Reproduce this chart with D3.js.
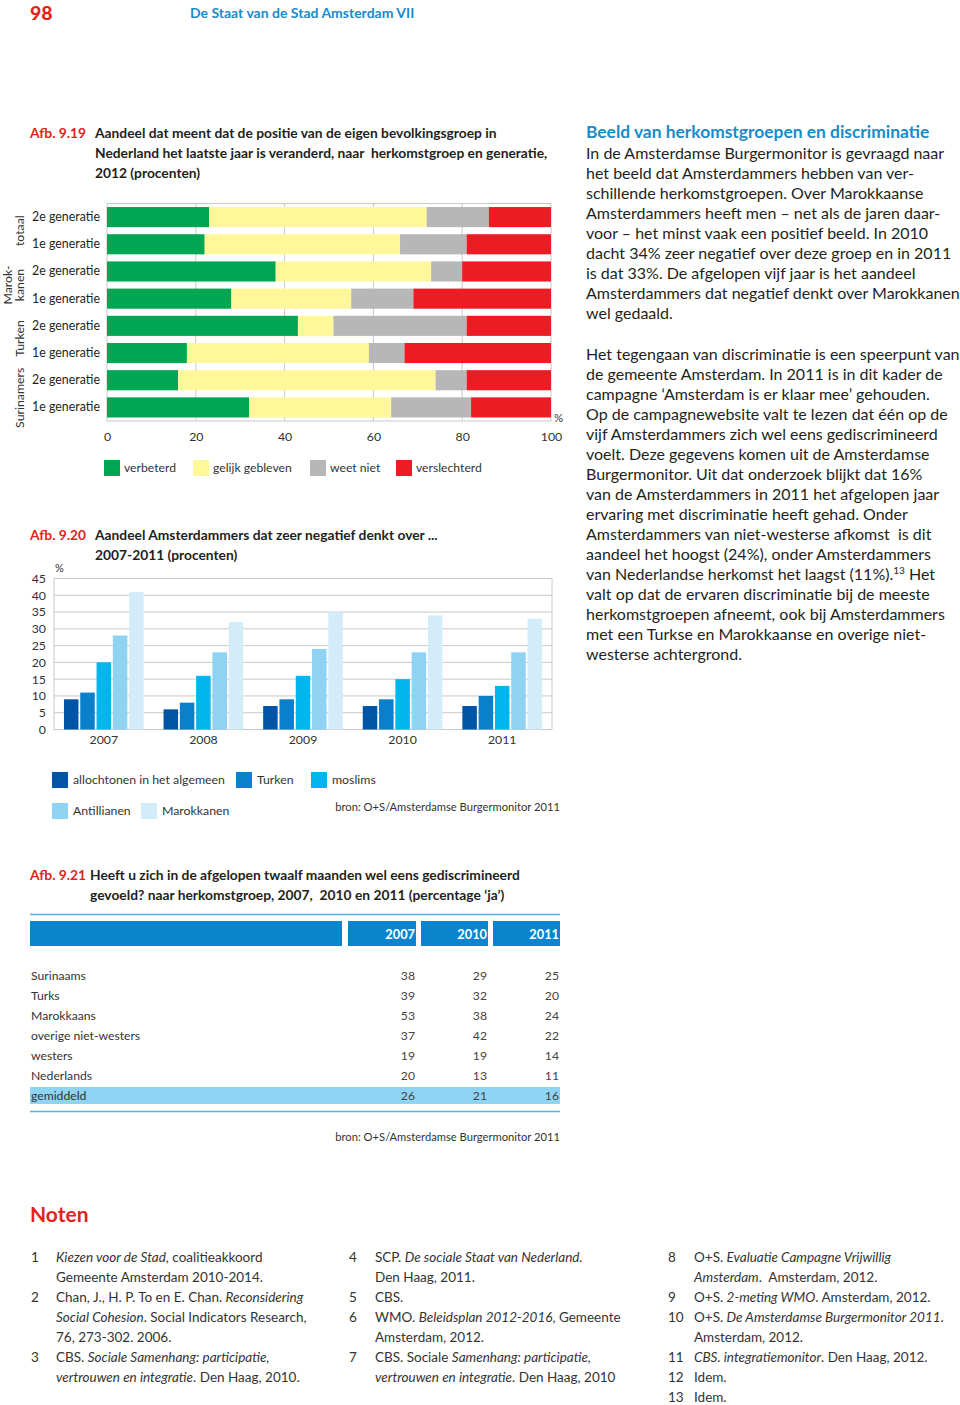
<!DOCTYPE html>
<html><head><meta charset="utf-8">
<script src="https://cdn.jsdelivr.net/npm/d3@7"></script>
<style>
body{margin:0;background:#fff;}
svg text{font-family:Lato,"Open Sans",sans-serif;fill:#231f20;white-space:pre;}
</style></head><body>
<svg id="c" width="960" height="1405"></svg>
<script>
// ---------- DATA ----------
// Afb. 9.19
const groups919 = [["totaal"], ["Marok-", "kanen"], ["Turken"], ["Surinamers"]];
const rowLabels919 = ["2e generatie","1e generatie","2e generatie","1e generatie","2e generatie","1e generatie","2e generatie","1e generatie"];
const rowGroup919 = [0,0,1,1,2,2,3,3];
const categories919 = ["verbeterd","gelijk gebleven","weet niet","verslechterd"];
const verbeterd = [23,22,38,28,43,18,16,32];
const gelijkGebleven = [49,44,35,27,8,41,58,32];
const weetNiet = [14,15,7,14,30,8,7,18];
const verslechterd = [14,19,20,31,19,33,19,18];
const ticks919 = [0,20,40,60,80,100];
const colors919 = ["#00a651","#fff799","#b7b7b7","#ed1c24"];

// Afb. 9.20
const years920 = ["2007","2008","2009","2010","2011"];
const series920 = ["allochtonen in het algemeen","Turken","moslims","Antillianen","Marokkanen"];
const allochtonen = [9,6,7,7,7];
const turken = [11,8,9,9,10];
const moslims = [20,16,16,15,13];
const antillianen = [28,23,24,23,23];
const marokkanen = [41,32,35,34,33];
const ticks920 = [0,5,10,15,20,25,30,35,40,45];
const colors920 = ["#0054a6","#0a7fcc","#00b6ef","#8fd2f2","#d2ecfa"];

// Afb. 9.21
const cols921 = ["2007","2010","2011"];
const rows921 = ["Surinaams","Turks","Marokkaans","overige niet-westers","westers","Nederlands","gemiddeld"];
const v2007 = [38,39,53,37,19,20,26];
const v2010 = [29,32,38,42,19,13,21];
const v2011 = [25,20,24,22,14,11,16];

// Text
const bodyPara1 = [
"In de Amsterdamse Burgermonitor is gevraagd naar",
"het beeld dat Amsterdammers hebben van ver-",
"schillende herkomstgroepen. Over Marokkaanse",
"Amsterdammers heeft men – net als de jaren daar-",
"voor – het minst vaak een positief beeld. In 2010",
"dacht 34% zeer negatief over deze groep en in 2011",
"is dat 33%. De afgelopen vijf jaar is het aandeel",
"Amsterdammers dat negatief denkt over Marokkanen",
"wel gedaald."];
const bodyPara2 = [
"Het tegengaan van discriminatie is een speerpunt van",
"de gemeente Amsterdam. In 2011 is in dit kader de",
"campagne ‘Amsterdam is er klaar mee’ gehouden.",
"Op de campagnewebsite valt te lezen dat één op de",
"vijf Amsterdammers zich wel eens gediscrimineerd",
"voelt. Deze gegevens komen uit de Amsterdamse",
"Burgermonitor. Uit dat onderzoek blijkt dat 16%",
"van de Amsterdammers in 2011 het afgelopen jaar",
"ervaring met discriminatie heeft gehad. Onder",
"Amsterdammers van niet-westerse afkomst  is dit",
"aandeel het hoogst (24%), onder Amsterdammers",
"van Nederlandse herkomst het laagst (11%).^13 Het",
"valt op dat de ervaren discriminatie bij de meeste",
"herkomstgroepen afneemt, ook bij Amsterdammers",
"met een Turkse en Marokkaanse en overige niet-",
"westerse achtergrond."];

// notes: [column, lineIndex, number, segments [text, italic]]
const notes = [
 [0,0,"1",[["Kiezen voor de Stad",1],[", coalitieakkoord",0]]],
 [0,1,"",[["Gemeente Amsterdam 2010-2014.",0]]],
 [0,2,"2",[["Chan, J., H. P. To en E. Chan. ",0],["Reconsidering",1]]],
 [0,3,"",[["Social Cohesion",1],[". Social Indicators Research,",0]]],
 [0,4,"",[["76, 273-302. 2006.",0]]],
 [0,5,"3",[["CBS. ",0],["Sociale Samenhang: participatie,",1]]],
 [0,6,"",[["vertrouwen en integratie",1],[". Den Haag, 2010.",0]]],
 [1,0,"4",[["SCP. ",0],["De sociale Staat van Nederland.",1]]],
 [1,1,"",[["Den Haag, 2011.",0]]],
 [1,2,"5",[["CBS.",0]]],
 [1,3,"6",[["WMO. ",0],["Beleidsplan 2012-2016",1],[", Gemeente",0]]],
 [1,4,"",[["Amsterdam, 2012.",0]]],
 [1,5,"7",[["CBS. Sociale ",0],["Samenhang: participatie,",1]]],
 [1,6,"",[["vertrouwen en integratie",1],[". Den Haag, 2010",0]]],
 [2,0,"8",[["O+S. ",0],["Evaluatie Campagne Vrijwillig",1]]],
 [2,1,"",[["Amsterdam",1],[".  Amsterdam, 2012.",0]]],
 [2,2,"9",[["O+S. ",0],["2-meting WMO",1],[". Amsterdam, 2012.",0]]],
 [2,3,"10",[["O+S. ",0],["De Amsterdamse Burgermonitor 2011",1],[".",0]]],
 [2,4,"",[["Amsterdam, 2012.",0]]],
 [2,5,"11",[["CBS. integratiemonitor",1],[". Den Haag, 2012.",0]]],
 [2,6,"12",[["Idem.",0]]],
 [2,7,"13",[["Idem.",0]]]
];

// ---------- DRAW ----------
const RED = "#e2231a", BLUE = "#1a8ac9", TXT = "#231f20";
const svg = d3.select("#c");

// page header
svg.append("text").attr("x",30).attr("y",19.5).text("98")
  .style("font-size","19.5px").style("font-weight","900").style("fill",RED);
svg.append("text").attr("x",190).attr("y",18).text("De Staat van de Stad Amsterdam VII")
  .style("font-size","14px").style("font-weight","700").style("fill",BLUE);

function title(x, y, label, lines, dx) {
  const g = svg.append("g");
  g.append("text").attr("x",x).attr("y",y).text(label)
   .style("font-size","13.8px").style("font-weight","700").style("fill",RED);
  lines.forEach((l,i)=> g.append("text").attr("x",x+dx).attr("y",y+20*i).text(l)
   .style("font-size","13.8px").style("font-weight","700").style("fill",TXT));
}

// ===== Afb. 9.19 =====
title(30,138,"Afb. 9.19",["Aandeel dat meent dat de positie van de eigen bevolkingsgroep in",
 "Nederland het laatste jaar is veranderd, naar  herkomstgroep en generatie,",
 "2012 (procenten)"],65);

const x19 = d3.scaleLinear().domain([0,100]).range([107,551]);
const y19 = d3.scaleBand().domain(d3.range(8)).range([203.5,421]).paddingInner(0.26).paddingOuter(0.13);
const g19 = svg.append("g");
g19.append("rect").attr("x",x19(0)).attr("y",203.5).attr("width",x19(100)-x19(0)).attr("height",421-203.5)
  .attr("fill","none").attr("stroke","#c8c8c8").attr("stroke-width",1);
g19.selectAll("line.grid").data(ticks919.slice(1,-1)).join("line")
  .attr("x1",d=>x19(d)).attr("x2",d=>x19(d)).attr("y1",203.5).attr("y2",421)
  .attr("stroke","#c8c8c8").attr("stroke-width",1);
const stackData = d3.range(8).map(i=>({i, verbeterd:verbeterd[i], "gelijk gebleven":gelijkGebleven[i], "weet niet":weetNiet[i], verslechterd:verslechterd[i]}));
const stacked = d3.stack().keys(categories919)(stackData);
g19.selectAll("g.layer").data(stacked).join("g").attr("fill",(d,k)=>colors919[k])
  .selectAll("rect").data(d=>d).join("rect")
  .attr("x",d=>x19(d[0])).attr("width",d=>x19(d[1])-x19(d[0]))
  .attr("y",d=>y19(d.data.i)).attr("height",y19.bandwidth());
g19.selectAll("text.row").data(rowLabels919).join("text")
  .attr("x",100).attr("y",(d,i)=>y19(i)+y19.bandwidth()/2+4).attr("text-anchor","end")
  .text(d=>d).style("font-size","12.4px");
const groupShift = [0,0,-1,4];
groups919.forEach((lines,gi)=>{
  const idx = rowGroup919.map((g,i)=>g===gi?i:-1).filter(i=>i>=0);
  const cy = (y19(idx[0]) + y19(idx[idx.length-1]) + y19.bandwidth())/2 + groupShift[gi];
  lines.forEach((l,li)=>{
    const bx = lines.length===1 ? 24 : 12 + 12*li;
    svg.append("text").attr("transform",`translate(${bx},${cy}) rotate(-90)`)
      .attr("text-anchor","middle").text(l).style("font-size","12.3px").style("fill","#333");
  });
});
const ax19 = d3.axisBottom(x19).tickValues(ticks919).tickSize(0).tickPadding(0);
const axg19 = svg.append("g").attr("transform","translate(0,432)").call(ax19);
axg19.select(".domain").remove();
axg19.selectAll("text").style("font-size","12.3px").style("fill","#333").style("font-family","Lato");
svg.append("text").attr("x",554).attr("y",422).text("%").style("font-size","11.5px").style("fill","#333");
const leg19x = [104,193,310,396];
categories919.forEach((c,i)=>{
  svg.append("rect").attr("x",leg19x[i]).attr("y",460).attr("width",16).attr("height",16).attr("fill",colors919[i]);
  svg.append("text").attr("x",leg19x[i]+20).attr("y",472).text(c).style("font-size","12.2px").style("fill","#333");
});

// ===== Afb. 9.20 =====
title(30,540,"Afb. 9.20",["Aandeel Amsterdammers dat zeer negatief denkt over ...","2007-2011 (procenten)"],65);
const y20 = d3.scaleLinear().domain([0,45]).range([729.5,578.5]);
const x20 = d3.scaleBand().domain(years920).range([54,552]).paddingInner(0.2).paddingOuter(0.1);
const xi20 = d3.scaleBand().domain(series920).range([0,x20.bandwidth()]).paddingInner(0.11);
const g20 = svg.append("g");
g20.selectAll("line.h").data(ticks920).join("line")
  .attr("x1",54).attr("x2",552).attr("y1",d=>y20(d)).attr("y2",d=>y20(d))
  .attr("stroke","#c8c8c8").attr("stroke-width",1);
g20.append("line").attr("x1",54).attr("x2",54).attr("y1",y20(45)).attr("y2",y20(0)).attr("stroke","#c8c8c8");
g20.append("line").attr("x1",552).attr("x2",552).attr("y1",y20(45)).attr("y2",y20(0)).attr("stroke","#c8c8c8");
const vals920 = [allochtonen,turken,moslims,antillianen,marokkanen];
years920.forEach((yr,yi)=>{
  series920.forEach((s,si)=>{
    g20.append("rect").attr("x",x20(yr)+xi20(s)).attr("width",xi20.bandwidth())
      .attr("y",y20(vals920[si][yi])).attr("height",y20(0)-y20(vals920[si][yi]))
      .attr("fill",colors920[si]);
  });
});
const ay20 = d3.axisLeft(y20).tickValues(ticks920).tickSize(0).tickPadding(0);
const ayg = svg.append("g").attr("transform","translate(46,0)").call(ay20);
ayg.select(".domain").remove();
ayg.selectAll("text").style("font-size","12.3px").style("fill","#333").style("font-family","Lato");
const ax20 = d3.axisBottom(x20).tickSize(0).tickPadding(0);
const axg20 = svg.append("g").attr("transform","translate(0,735)").call(ax20);
axg20.select(".domain").remove();
axg20.selectAll("text").style("font-size","12.3px").style("fill","#333").style("font-family","Lato");
svg.append("text").attr("x",55).attr("y",572).text("%").style("font-size","11px").style("fill","#333");
const leg20 = [[52,772],[236,772],[311,772],[52,803],[141,803]];
series920.forEach((s,i)=>{
  svg.append("rect").attr("x",leg20[i][0]).attr("y",leg20[i][1]).attr("width",16).attr("height",16).attr("fill",colors920[i]);
  svg.append("text").attr("x",leg20[i][0]+21).attr("y",leg20[i][1]+12).text(s).style("font-size","12.3px").style("fill","#333");
});
svg.append("text").attr("x",560).attr("y",811).attr("text-anchor","end")
  .text("bron: O+S/Amsterdamse Burgermonitor 2011").style("font-size","11.2px").style("fill","#333");

// ===== Afb. 9.21 =====
title(30,880,"Afb. 9.21",["Heeft u zich in de afgelopen twaalf maanden wel eens gediscrimineerd",
 "gevoeld? naar herkomstgroep, 2007,  2010 en 2011 (percentage ‘ja’)"],60);
const TB = "#0a84cc";
svg.append("line").attr("x1",30).attr("x2",560).attr("y1",914.5).attr("y2",914.5).attr("stroke","#5aaee0").attr("stroke-width",1.5);
svg.append("rect").attr("x",30).attr("y",921).attr("width",312).attr("height",25).attr("fill",TB);
const colX = [[348,416],[421,488],[493,560]];
cols921.forEach((c,i)=>{
  svg.append("rect").attr("x",colX[i][0]).attr("y",921).attr("width",colX[i][1]-colX[i][0]).attr("height",25).attr("fill",TB);
  svg.append("text").attr("x",colX[i][1]-1).attr("y",939).attr("text-anchor","end").text(c)
    .style("font-size","12.8px").style("font-weight","700").style("fill","#fff");
});
const rowY = d3.scalePoint().domain(rows921).range([976,1096]);
svg.append("rect").attr("x",30).attr("y",rowY("gemiddeld")-9).attr("width",530).attr("height",17).attr("fill","#8ed4f5");
const tv = [v2007,v2010,v2011];
rows921.forEach((r,ri)=>{
  svg.append("text").attr("x",31).attr("y",rowY(r)+4).text(r).style("font-size","12.2px").style("fill","#333");
  tv.forEach((arr,ci)=>{
    svg.append("text").attr("x",colX[ci][1]-1).attr("y",rowY(r)+4).attr("text-anchor","end")
      .text(arr[ri]).style("font-size","12.2px").style("fill","#444");
  });
});
svg.append("line").attr("x1",30).attr("x2",560).attr("y1",1111.5).attr("y2",1111.5).attr("stroke","#5aaee0").attr("stroke-width",1.5);
svg.append("text").attr("x",560).attr("y",1141).attr("text-anchor","end")
  .text("bron: O+S/Amsterdamse Burgermonitor 2011").style("font-size","11.2px").style("fill","#333");

// ===== right column text =====
svg.append("text").attr("x",586).attr("y",138).text("Beeld van herkomstgroepen en discriminatie")
  .style("font-size","17.4px").style("font-weight","700").style("fill",BLUE);
function bodyLines(lines, y0) {
  lines.forEach((l,i)=>{
    const t = svg.append("text").attr("x",586).attr("y",y0+20*i).style("font-size","16px").style("fill",TXT);
    if (l.includes("^")) {
      const [a,rest] = l.split("^");
      const sup = rest.match(/^\d+/)[0];
      t.append("tspan").text(a);
      t.append("tspan").attr("dy",-6).style("font-size","10px").text(sup);
      t.append("tspan").attr("dy",6).text(rest.slice(sup.length));
    } else t.text(l);
  });
}
bodyLines(bodyPara1, 158.5);
bodyLines(bodyPara2, 359.5);

// ===== Noten =====
svg.append("text").attr("x",30).attr("y",1222).text("Noten")
  .style("font-size","21px").style("font-weight","700").style("fill",RED);
const noteCols = [[31,56],[349,375],[668,694]];
notes.forEach(([c,li,num,segs])=>{
  const y = 1261.5 + 20*li;
  if (num) svg.append("text").attr("x",noteCols[c][0]).attr("y",y).text(num).style("font-size","13.5px").style("fill","#333");
  const t = svg.append("text").attr("x",noteCols[c][1]).attr("y",y).style("font-size","13.5px").style("fill","#333");
  segs.forEach(([s,it])=> t.append("tspan").text(s).style("font-style",it?"italic":"normal"));
});
</script>
</body></html>
